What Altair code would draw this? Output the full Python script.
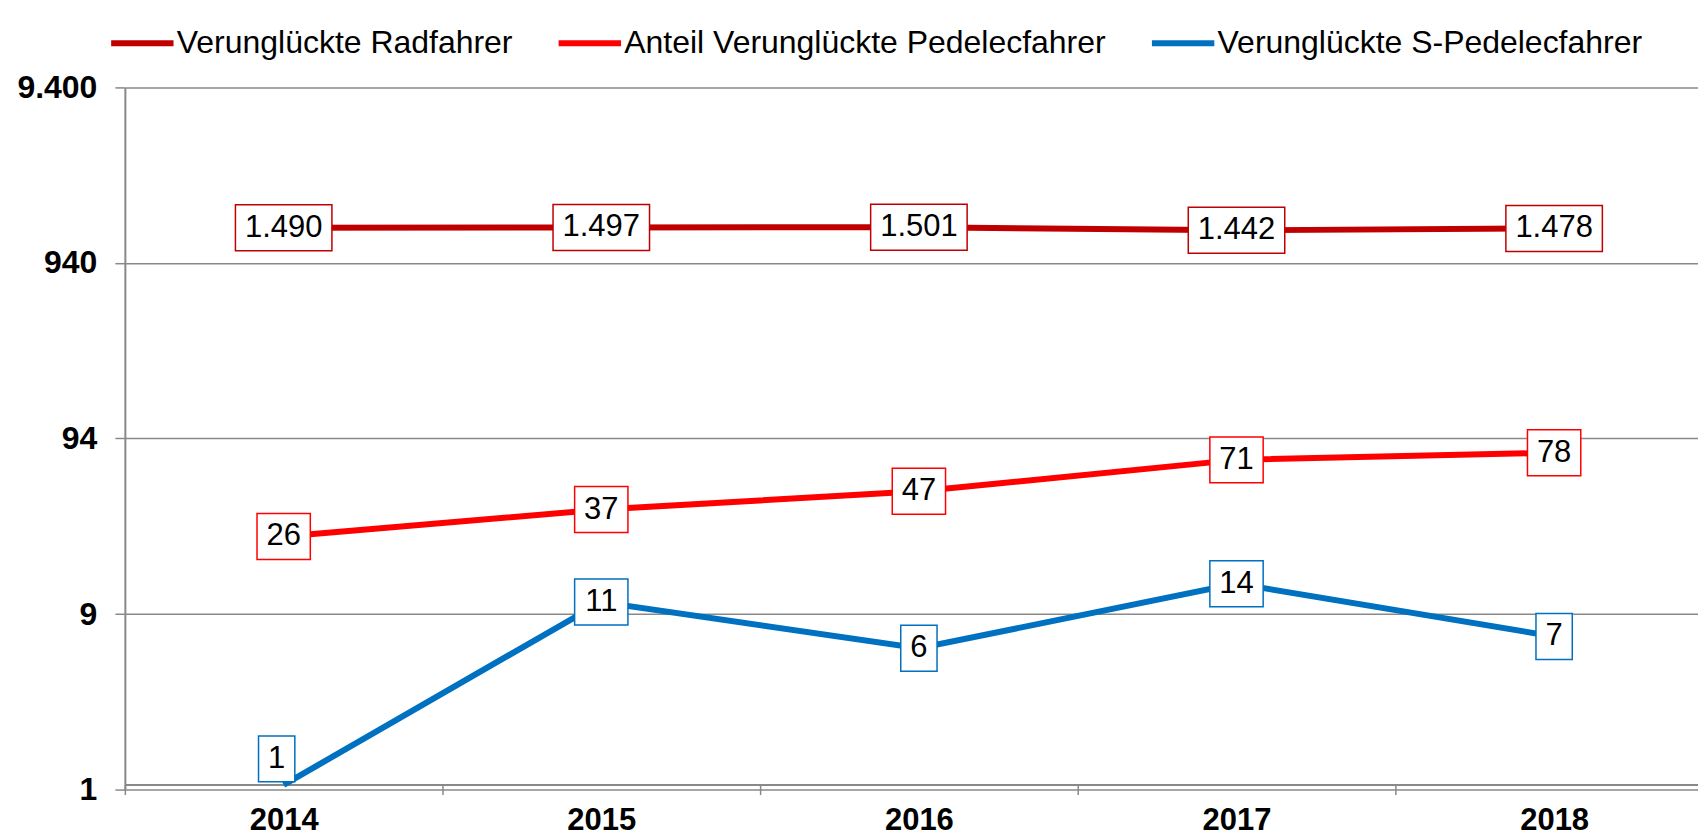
import altair as alt
import pandas as pd

years = [2014, 2015, 2016, 2017, 2018]
series_names = [
    "Verunglückte Radfahrer",
    "Anteil Verunglückte Pedelecfahrer",
    "Verunglückte S-Pedelecfahrer",
]
radfahrer = [1490, 1497, 1501, 1442, 1478]
pedelec = [26, 37, 47, 71, 78]
s_pedelec = [1, 11, 6, 14, 7]
colors = ["#C00000", "#FF0000", "#0070C0"]

y_ticks = [0.94, 9.4, 94, 940, 9400]
y_tick_labels = ["1", "9", "94", "940", "9.400"]
x_ticks = [2013.5, 2014, 2014.5, 2015, 2015.5, 2016, 2016.5, 2017, 2017.5, 2018]

rows = []
for name, vals in zip(series_names, [radfahrer, pedelec, s_pedelec]):
    for yr, v in zip(years, vals):
        lab = f"{v:,}".replace(",", ".")
        rows.append({"year": yr, "series": name, "value": v, "label": lab, "w": str(len(lab))})
df = pd.DataFrame(rows)

# label box outlines (unit = half box height)
box_shapes = {
    "1": "M-0.79,-1H0.79V1H-0.79Z",
    "2": "M-1.16,-1H1.16V1H-1.16Z",
    "5": "M-2.1,-1H2.1V1H-2.1Z",
}

# y label expression
expr = "''"
for v, lab in reversed(list(zip(y_ticks, y_tick_labels))):
    expr = f"datum.value < {v * 3} ? '{lab}' : ({expr})"
y_label_expr = expr

GRAY = "#898989"
FONT = "Liberation Sans"

color_scale = alt.Scale(domain=series_names, range=colors)

x_enc = alt.X(
    "year:Q",
    scale=alt.Scale(domain=[2013.5, 2018.453], nice=False, zero=False),
    axis=alt.Axis(
        values=x_ticks,
        labelExpr="datum.value % 1 == 0 ? '' + datum.value : ''",
        tickOpacity={"condition": {"test": "datum.value % 1 == 0", "value": 0}, "value": 1},
        grid=False,
        title=None,
        offset=-5,
        tickSize=10,
        tickWidth=1.5,
        tickColor=GRAY,
        domainColor=GRAY,
        domainWidth=2,
        labelFontSize=31,
        labelFontWeight="bold",
        labelColor="black",
        labelPadding=11,
        labelFont=FONT,
    ),
)
y_enc = alt.Y(
    "value:Q",
    scale=alt.Scale(type="log", domain=[0.94, 9400], nice=False),
    axis=alt.Axis(
        values=y_ticks,
        labelExpr=y_label_expr,
        grid=True,
        gridColor=GRAY,
        gridWidth=1.5,
        title=None,
        tickSize=10,
        tickWidth=1.5,
        tickColor=GRAY,
        domainColor=GRAY,
        domainWidth=2,
        labelFontSize=32,
        labelFontWeight="bold",
        labelColor="black",
        labelPadding=18,
        labelFont=FONT,
    ),
)

base = alt.Chart(df).encode(x=x_enc, y=y_enc)

lines = base.mark_line(strokeWidth=6).encode(
    color=alt.Color(
        "series:N",
        scale=color_scale,
        sort=series_names,
        legend=alt.Legend(
            orient="none",
            legendX=-17,
            legendY=-79,
            direction="horizontal",
            title=None,
            symbolType="stroke",
            symbolSize=3900,
            symbolStrokeWidth=6,
            labelFontSize=32,
            labelFont=FONT,
            labelColor="black",
            labelOffset=0,
            labelLimit=800,
            columnPadding=33,
            padding=0,
        ),
    )
)

shape_enc = alt.Shape(
    "w:N",
    scale=alt.Scale(domain=list(box_shapes.keys()), range=list(box_shapes.values())),
    legend=None,
)
stroke_enc = alt.Stroke("series:N", scale=color_scale, legend=None)

normal = base.transform_filter("datum.value > 1")
special = base.transform_filter("datum.value <= 1")

boxes = normal.mark_point(filled=True, fill="white", opacity=1, fillOpacity=1, strokeWidth=1.5).encode(
    stroke=stroke_enc, shape=shape_enc, size=alt.value(2116)
)
texts = normal.mark_text(fontSize=31, font=FONT, color="black", baseline="middle", align="center").encode(
    text="label:N"
)
boxes_sp = special.mark_point(filled=True, fill="white", opacity=1, fillOpacity=1, strokeWidth=1.5).encode(
    stroke=stroke_enc, shape=shape_enc, size=alt.value(2116),
    xOffset=alt.value(-7), yOffset=alt.value(-26),
)
texts_sp = special.mark_text(fontSize=31, font=FONT, color="black", baseline="middle", align="center",
                             dx=-7, dy=-26).encode(text="label:N")

chart = (
    alt.layer(lines, boxes, texts, boxes_sp, texts_sp)
    .properties(
        width=1575,
        height=703,
        padding={"left": 117, "top": 79, "right": 0, "bottom": 52},
        autosize=alt.AutoSizeParams(type="none"),
    )
    .configure(font=FONT)
    .configure_view(stroke=None)
)

chart.save("out.html", embed_options={"renderer": "svg", "actions": False})
